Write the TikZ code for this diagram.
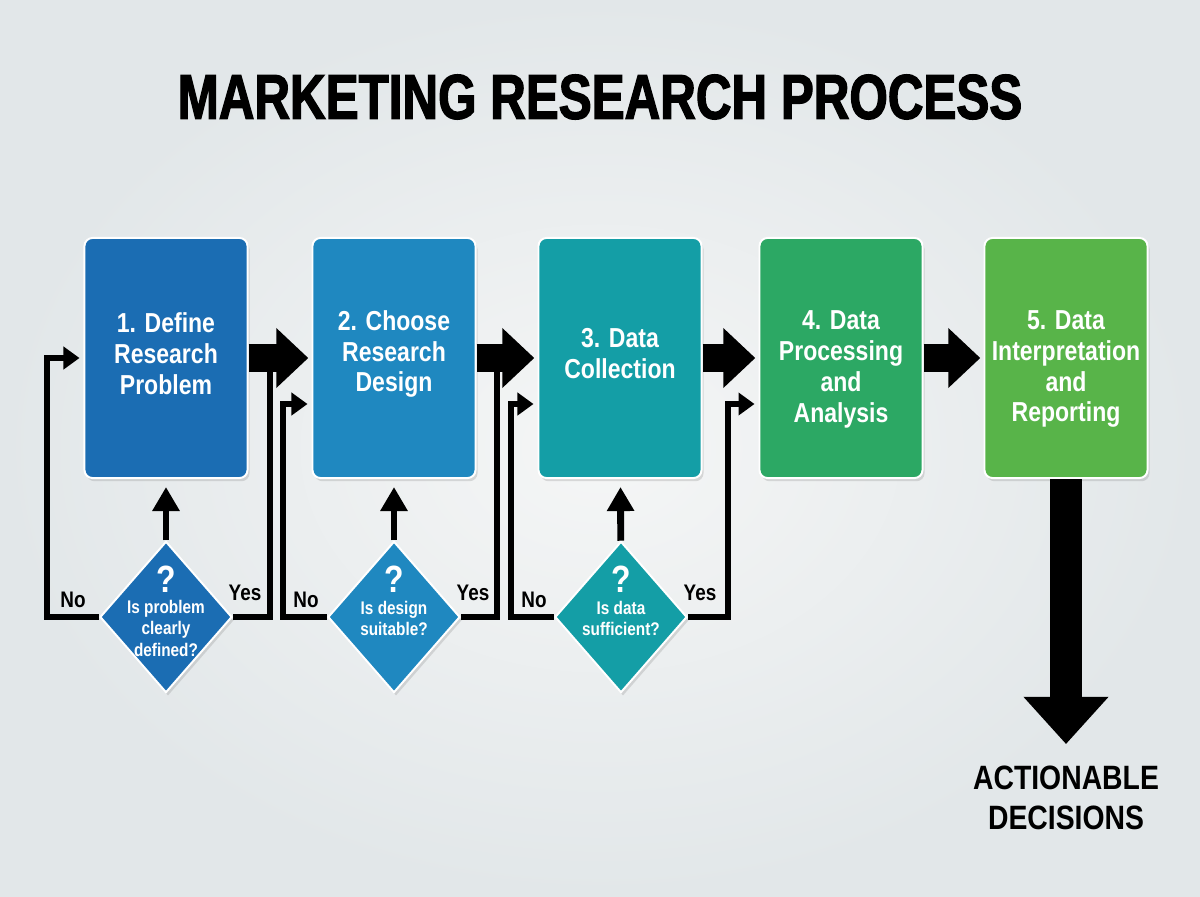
\documentclass[tikz,border=0pt]{standalone}
\usepackage{fontspec}
\setmainfont{Liberation Sans}
\newfontfamily\condfont{Liberation Sans}[FakeStretch=0.84]
\newfontfamily\titlefont{Liberation Sans}[FakeStretch=0.78,BoldFeatures={FakeBold=2}]
\usetikzlibrary{arrows.meta,shapes.geometric,shadows,calc,positioning}

\definecolor{bgin}{HTML}{F5F6F6}
\definecolor{bgout}{HTML}{E2E7E9}
\definecolor{boxc1}{HTML}{1B6DB3}
\definecolor{boxc2}{HTML}{1F88C0}
\definecolor{boxc3}{HTML}{149EA6}
\definecolor{boxc4}{HTML}{2CA864}
\definecolor{boxc5}{HTML}{58B449}

\begin{document}
\begin{tikzpicture}[x=0.025cm,y=-0.025cm,
    stepbox/.style={draw=white, line width=1.4pt, rounded corners=0.2cm,
      minimum width=4.075cm, minimum height=6cm, inner sep=0pt,
      drop shadow={opacity=0.25, shadow xshift=0.05cm, shadow yshift=-0.08cm}},
    steptext/.style={text=white, align=center, inner sep=0pt,
      font=\condfont\bfseries\fontsize{19.5}{22}\selectfont},
    query/.style={diamond, draw=white, line width=1.4pt,
      minimum width=3.3cm, minimum height=3.78cm, inner sep=0pt,
      drop shadow={opacity=0.25, shadow xshift=0.05cm, shadow yshift=-0.08cm}},
    querytext/.style={text=white, align=center, inner sep=0pt,
      font=\condfont\bfseries\fontsize{13}{15.2}\selectfont},
    answer/.style={inner sep=0pt, font=\condfont\bfseries\fontsize{16}{18}\selectfont},
    bigarrow/.style={line width=0.7cm, -{Triangle[length=0.8cm,width=1.45cm]},
      shorten >=0.08cm},
    flowline/.style={line width=0.17cm},
    loopin/.style={flowline, -{Triangle[length=0.4cm,width=0.55cm]}, shorten >=0.1cm},
    uparrow/.style={flowline, -{Triangle[length=0.6cm,width=0.65cm]}, shorten >=0.2cm}]

  % Hintergrund
  \useasboundingbox (0,0) rectangle (1200,896);
  \shade[inner color=bgin, outer color=bgout] (0,0) rectangle (1200,896);

  % Titel
  \node[font=\titlefont\bfseries\fontsize{45}{45}\selectfont] (title) at (600,97)
    {MARKETING RESEARCH PROCESS};

  % Prozessschritte
  \node[stepbox, fill=boxc1] (b1) at (166,358) {};
  \node[stepbox, fill=boxc2] (b2) at (394,358) {};
  \node[stepbox, fill=boxc3] (b3) at (620,358) {};
  \node[stepbox, fill=boxc4] (b4) at (841,358) {};
  \node[stepbox, fill=boxc5] (b5) at (1066,358) {};

  \node[steptext] (t1) at ($(b1)+(0,-4)$) {1. Define\\Research\\Problem};
  \node[steptext] (t2) at ($(b2)+(0,-4)$) {2. Choose\\Research\\Design};
  \node[steptext] (t3) at ($(b3)+(0,-4)$) {3. Data\\Collection};
  \node[steptext] (t4) at ($(b4)+(0,11)$) {4. Data\\Processing\\and\\Analysis};
  \node[steptext] (t5) at ($(b5)+(0,11)$) {5. Data\\Interpretation\\and\\Reporting};

  % Entscheidungen
  \node[query, fill=boxc1] (d1) at (166,617) {};
  \node[query, fill=boxc2] (d2) at (394,617) {};
  \node[query, fill=boxc3] (d3) at (621,617) {};

  \node[querytext] (q1) at ($(d1)+(0,-6)$)
    {{\fontsize{27}{27}\selectfont ?}\\Is problem\\clearly\\defined?};
  \node[querytext] (q2) at ($(d2)+(0,-16)$)
    {{\fontsize{27}{27}\selectfont ?}\\Is design\\suitable?};
  \node[querytext] (q3) at ($(d3)+(0,-16)$)
    {{\fontsize{27}{27}\selectfont ?}\\Is data\\sufficient?};

  % Ja / Nein
  \node[answer] (n1) at ($(d1.west)+(-26,-17)$) {No};
  \node[answer] (y1) at ($(d1.east)+(12,-24)$) {Yes};
  \node[answer] (n2) at ($(d2.west)+(-21,-17)$) {No};
  \node[answer] (y2) at ($(d2.east)+(12,-24)$) {Yes};
  \node[answer] (n3) at ($(d3.west)+(-20,-17)$) {No};
  \node[answer] (y3) at ($(d3.east)+(12,-24)$) {Yes};

  % Ergebnis
  \node[inner sep=0pt, align=center,
    font=\condfont\bfseries\fontsize{24}{28}\selectfont] (act) at (1066,798)
    {ACTIONABLE\\DECISIONS};

  % Hauptfluss
  \foreach \a/\b in {b1/b2,b2/b3,b3/b4,b4/b5}
    \draw[bigarrow] (\a) -- (\b);
  \draw[line width=0.82cm, -{Triangle[length=1.18cm,width=2.05cm]},
    shorten >=0.55cm] (b5) -- (act);

  % Pfeile von den Entscheidungen nach oben
  \foreach \i in {1,2,3}
    \draw[uparrow] (d\i) -- (b\i);

  % Nein-Schleifen
  \draw[loopin] (d1.west) -- ++(-52,0) |- (b1.west);
  \draw[loopin] (d2.west) -- ++(-44,0) |- ($(b2.west)+(0,46)$);
  \draw[loopin] (d3.west) -- ++(-43,0) |- ($(b3.west)+(0,46)$);

  % Ja-Wege
  \coordinate (j1) at (270,366);
  \coordinate (j2) at (497,366);
  \draw[flowline] (d1.east) -| (j1);
  \draw[flowline] (d2.east) -| (j2);
  \draw[loopin] (d3.east) -- ++(40,0) |- ($(b4.west)+(0,46)$);
\end{tikzpicture}
\end{document}
